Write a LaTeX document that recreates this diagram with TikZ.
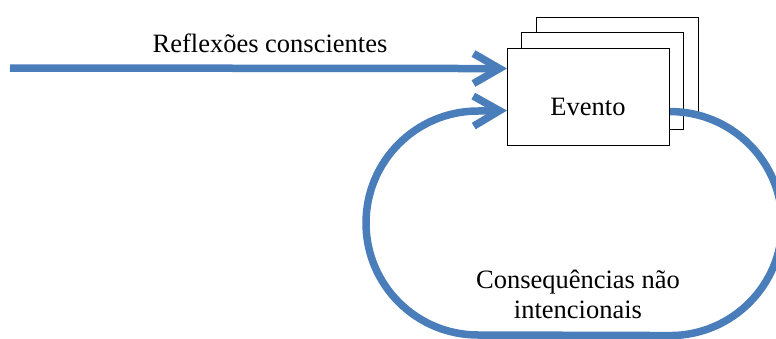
\documentclass[tikz,border=0pt]{standalone}
\usepackage{fontspec}
\setmainfont{Liberation Serif}
\usetikzlibrary{arrows.meta}
\definecolor{flowblue}{RGB}{74,126,187}
\begin{document}
\begin{tikzpicture}[x=1pt,y=-1pt,
  evbox/.style={draw=black, line width=1.1pt, fill=white, minimum width=162pt, minimum height=97pt, inner sep=0pt, anchor=north west},
  flow/.style={draw=flowblue, line width=7.5pt},
  flowarrow/.style={flow, -{Straight Barb[length=26pt,width=30pt]}},
  lbl/.style={font=\fontsize{26.5}{30}\selectfont, inner sep=0pt, align=center}]
\useasboundingbox (0,0) rectangle (776,338);
\node[evbox] (ev3) at (536,17) {};
\node[evbox] (ev2) at (521,32) {};
\node[evbox] (ev) at (507,48) {};
\node[lbl, anchor=base] (evlbl) at (588,115) {Evento};
\node[lbl, anchor=base] (refl) at (270,52) {Reflexões conscientes};
\node[lbl, anchor=base] (cons) at (578,318) {Consequências não\\intencionais};
\coordinate (start) at (10,68);
\draw[flowarrow] (start) -- ([yshift=28.5pt]ev.west);
\draw[flowarrow] ([yshift=-14.5pt]ev.east) arc[start angle=-90,end angle=90,radius=112]
  -- (478,335) arc[start angle=90,end angle=270,radius=112]
  -- ([yshift=-13.5pt]ev.west);
\end{tikzpicture}
\end{document}
